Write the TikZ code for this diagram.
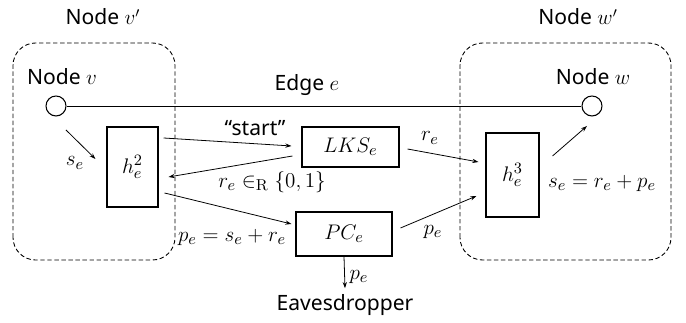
\documentclass[tikz,border=0pt]{standalone}
\usepackage[no-math]{fontspec}
\setmainfont{Noto Sans}
\usetikzlibrary{arrows.meta}

\begin{document}
\begin{tikzpicture}[x=0.02cm,y=0.02cm,
    font=\fontsize{12}{14}\selectfont,
    mathlbl/.style={font=\fontsize{12.5}{14}\selectfont},
    box/.style={draw, line width=0.6pt, inner sep=0pt, mathlbl},
    endpt/.style={draw, circle, line width=0.6pt, minimum size=0.4cm, inner sep=0pt},
    host/.style={draw, dash pattern=on 2.5pt off 1.5pt, rounded corners=0.45cm, line width=0.5pt},
    arr/.style={-{Stealth[length=3.5pt,width=2.4pt]}, line width=0.45pt}]
  \useasboundingbox (0,0) rectangle (686,323);
  % the two hosts
  \draw[host] (13,63) rectangle (175,280);
  \draw[host] (460,63) rectangle (671,280);
  \node (vhost) at (103,306) {Node $v'$};
  \node (whost) at (578,306) {Node $w'$};

  % the edge
  \node[endpt] (v) at (56,217) {};
  \node[endpt] (w) at (592,217) {};
  \node (vname) at (62,246) {Node $v$};
  \node (wname) at (593,246) {Node $w$};
  \draw[line width=0.5pt] (v) -- (w);
  \node (ename) at (307,238) {Edge $e$};

  % boxes
  \node[box, minimum width=1.02cm, minimum height=1.6cm] (h2) at (132.5,156) {$h_e^2$};
  \node[box, minimum width=1.06cm, minimum height=1.68cm] (h3) at (512.5,148) {$h_e^3$};
  \node[box, minimum width=1.94cm, minimum height=0.8cm] (lks) at (350.5,176) {$LKS_e$};
  \node[box, minimum width=1.92cm, minimum height=0.88cm] (pc) at (344,89) {$PC_e$};
  \node (eve) at (345,18) {Eavesdropper};

  % messages
  \draw[arr] ([shift={(10,-24)}]v.center) -- ([shift={(-11,8)}]h2.west);
  \node[mathlbl] (lse) at (75,160) {$s_e$};
  \draw[arr] ([shift={(5,29)}]h2.east) -- ([shift={(-10,1)}]lks.west);
  \node (lstart) at (255,195) {“start”};
  \draw[arr] ([shift={(-9,-9)}]lks.west) -- ([shift={(10,-10)}]h2.east);
  \node[mathlbl] (lre) at (272,141) {$r_e \in_{\mathrm{R}} \{0,1\}$};
  \draw[arr] ([shift={(6,-26)}]h2.east) -- ([shift={(-4,10)}]pc.west);
  \node[mathlbl] (lpe) at (232,86) {$p_e = s_e + r_e$};
  \draw[arr] ([shift={(8,-2)}]lks.east) -- ([shift={(-7,13)}]h3.west);
  \node[mathlbl] (lre2) at (430,185) {$r_e$};
  \draw[arr] ([shift={(8,6)}]pc.east) -- ([shift={(-9,-21)}]h3.west);
  \node[mathlbl] (lpe2) at (433,91) {$p_e$};
  \draw[arr] ([shift={(13,19)}]h3.east) -- ([shift={(-5,-20)}]w.center);
  \node[mathlbl] (lse2) at (602,140) {$s_e = r_e + p_e$};
  \draw[arr] (pc.south) -- (eve.north);
  \node[mathlbl] (lpe3) at (359,46) {$p_e$};
\end{tikzpicture}
\end{document}
